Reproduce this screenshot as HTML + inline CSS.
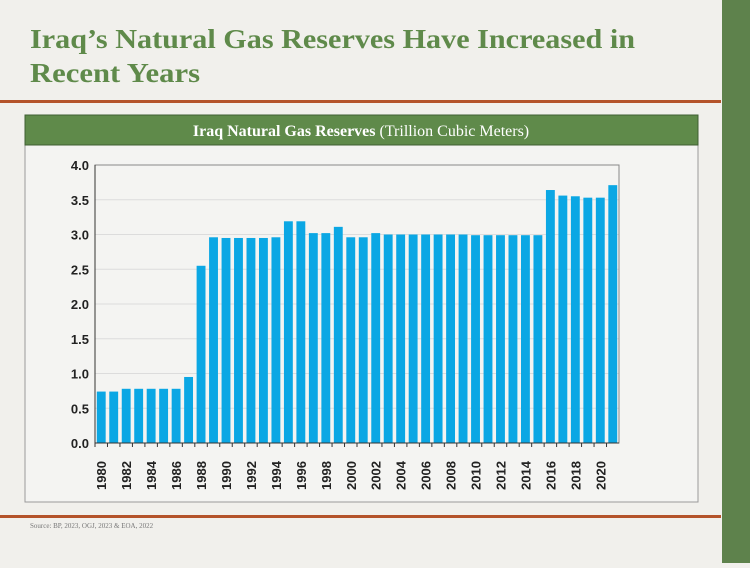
<!DOCTYPE html>
<html><head><meta charset="utf-8"><style>
body{margin:0;width:750px;height:563px;overflow:hidden;background:#f1f0ec;font-family:"Liberation Sans",sans-serif;}
</style></head><body>
<svg width="750" height="563" xmlns="http://www.w3.org/2000/svg">
<rect width="750" height="563" fill="#f1f0ec"/>
<rect x="722" y="0" width="28" height="563" fill="#5e824c"/>
<text x="30" y="48" font-family="Liberation Serif" font-weight="bold" font-size="27" fill="#5f8a4a" textLength="605" lengthAdjust="spacingAndGlyphs">Iraq’s Natural Gas Reserves Have Increased in</text>
<text x="30" y="82" font-family="Liberation Serif" font-weight="bold" font-size="27" fill="#5f8a4a" textLength="170" lengthAdjust="spacingAndGlyphs">Recent Years</text>
<rect x="0" y="100" width="721" height="3" fill="#b4532a"/>
<rect x="0" y="515" width="721" height="3" fill="#b4532a"/>
<rect x="25" y="145" width="673" height="357" fill="#f4f4f2" stroke="#9a9a9a" stroke-width="1"/>
<rect x="25" y="115" width="673" height="30" fill="#5f8a4a" stroke="#3f5f33"/>
<text x="361" y="136" text-anchor="middle" font-family="Liberation Serif" font-size="16" fill="#fff"><tspan font-weight="bold">Iraq Natural Gas Reserves</tspan> (Trillion Cubic Meters)</text>
<text x="30" y="528" font-family="Liberation Serif" font-size="7" fill="#777">Source: BP, 2023, OGJ, 2023 &amp; EOA, 2022</text>
<g id="chart"></g>
</svg>
<script>
const v=[.74,.74,.78,.78,.78,.78,.78,.95,2.55,2.96,2.95,2.95,2.95,2.95,2.96,3.19,3.19,3.02,3.02,3.11,2.96,2.96,3.02,3.0,3.0,3.0,3.0,3.0,3.0,3.0,2.99,2.99,2.99,2.99,2.99,2.99,3.64,3.56,3.55,3.53,3.53,3.71];
const L=95,R=619,T=165,B=443;let s="";
const y=t=>B-(B-T)*t/4;
for(let i=0;i<=8;i++){const yy=y(i/2);s+=`<line x1="${L}" x2="${R}" y1="${yy}" y2="${yy}" stroke="#dcdcdc"/>`;
s+=`<text x="${L-6}" y="${yy+5}" text-anchor="end" font-family="Liberation Sans" font-weight="bold" font-size="13" fill="#222">${(i/2).toFixed(1)}</text>`;}
s+=`<rect x="${L}" y="${T}" width="${R-L}" height="${B-T}" fill="none" stroke="#888"/>`;
const w=(R-L)/42;
v.forEach((d,i)=>{const x=L+i*w;s+=`<rect x="${x+1.8}" y="${y(d)}" width="${w-3.6}" height="${B-y(d)}" fill="#0ba7e4"/>`;
s+=`<line x1="${x}" x2="${x}" y1="${B}" y2="${B+4}" stroke="#333"/>`;
if(i%2==0){const cx=x+w/2+5;s+=`<text transform="translate(${cx},${B+47}) rotate(-90)" font-family="Liberation Sans" font-weight="bold" font-size="13" fill="#222">${1980+i}</text>`;}});
s+=`<line x1="${L}" x2="${R}" y1="${B}" y2="${B}" stroke="#333"/><line x1="${L}" x2="${L}" y1="${T}" y2="${B}" stroke="#333"/>`;
document.getElementById("chart").innerHTML=s;
</script>
</body></html>
